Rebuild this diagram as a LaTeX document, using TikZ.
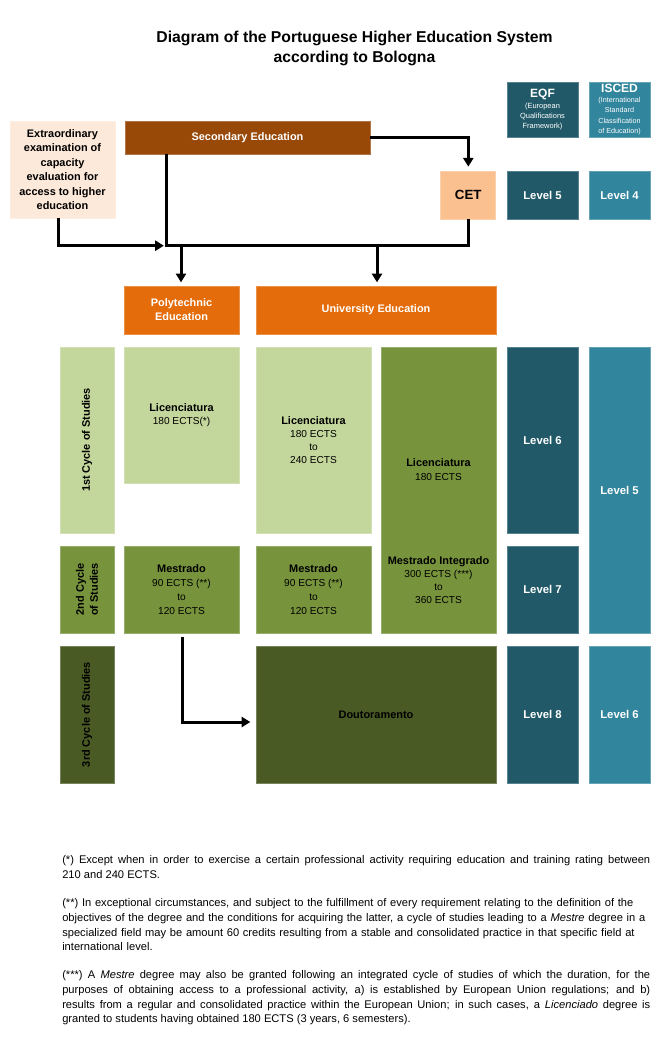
\documentclass[tikz,border=0pt]{standalone}
\usepackage{fontspec}
\setmainfont{Liberation Sans}
\usetikzlibrary{arrows.meta,calc}
\definecolor{peach}{HTML}{FDE9D9}
\definecolor{secbrown}{HTML}{984807}
\definecolor{cetc}{HTML}{FAC090}
\definecolor{orng}{HTML}{E46C0A}
\definecolor{lgreen}{HTML}{C3D69B}
\definecolor{mgreen}{HTML}{77933C}
\definecolor{dgreen}{HTML}{4A5A24}
\definecolor{dteal}{HTML}{215968}
\definecolor{lteal}{HTML}{31859C}
\tikzset{
  bx/.style={fill=#1, draw=#1!75!white, line width=0.5pt, inner sep=1pt, align=center, text=black,
    font=\fontsize{7.6}{9.75}\selectfont},
  wt/.style={text=white},
  bld/.style={font=\bfseries\fontsize{8.2}{10.5}\selectfont},
  lvl/.style={font=\bfseries\fontsize{8.5}{10}\selectfont, text=white},
  conn/.style={line width=2.25pt, line join=miter, draw=black},
  tip/.style={-{Triangle[length=6.5pt,width=7.5pt]}},
  lbl/.style={align=center, inner sep=0pt},
  fnote/.style={anchor=north west, inner sep=0pt, text width=441pt, font=\fontsize{8.35}{11}\selectfont},
}
\begin{document}
\begin{tikzpicture}[x=0.75pt,y=-0.75pt]
\useasboundingbox (0,0) rectangle (664,1044);
\fill[white] (0,0) rectangle (664,1044);

% title
\node[lbl, font=\bfseries\fontsize{11.8}{15}\selectfont] (title) at (354.5,48.5)
  {Diagram of the Portuguese Higher Education System\\according to Bologna};

% header row
\node[bx=dteal, minimum width=53.25pt, minimum height=41.25pt, text=white, font=\fontsize{5.6}{7.6}\selectfont] (eqf) at (542.5,109.5)
  {{\bfseries\fontsize{9}{10}\selectfont EQF}\\[0.5pt](European\\Qualifications\\Framework)};
\node[bx=lteal, minimum width=45.75pt, minimum height=41.25pt, text=white, font=\fontsize{5.4}{7.9}\selectfont] (isced) at (619.5,109.5)
  {{\bfseries\fontsize{9}{10}\selectfont ISCED}\\[-0.5pt](International\\Standard\\Classification\\of Education)};

\node[bx=peach, minimum width=78.75pt, minimum height=72.75pt, font=\bfseries\fontsize{8.2}{10.9}\selectfont] (extra) at (62.5,169.5)
  {Extraordinary\\examination of\\capacity\\evaluation for\\access to higher\\education};
\node[bx=secbrown, minimum width=183.75pt, minimum height=24.75pt, bld, wt] (sec) at (247.5,137.5) {Secondary Education};
\node[bx=cetc, minimum width=41.25pt, minimum height=36pt, font=\bfseries\fontsize{10}{12}\selectfont] (cet) at (468.3,195) {CET};
\node[bx=dteal, minimum width=53.25pt, minimum height=36pt, lvl] (eqf5) at (542.5,195) {Level 5};
\node[bx=lteal, minimum width=45.75pt, minimum height=36pt, lvl] (isc4) at (619.5,195) {Level 4};

% institution types
\node[bx=orng, minimum width=86.25pt, minimum height=36pt, bld, wt] (poly) at (181.5,310) {Polytechnic\\Education};
\node[bx=orng, minimum width=180pt, minimum height=36pt, bld, wt] (univ) at (376,310) {University Education};

% cycle labels
\node[bx=lgreen, minimum width=40.5pt, minimum height=139.5pt] (c1) at (87,440) {};
\node[lbl, rotate=90, bld] (c1t) at (c1.center) {1st Cycle of Studies};
\node[bx=mgreen, minimum width=40.5pt, minimum height=65.25pt] (c2) at (87,589.5) {};
\node[lbl, rotate=90, bld] (c2t) at (c2.center) {2nd Cycle\\of Studies};
\node[bx=dgreen, minimum width=40.5pt, minimum height=102.75pt] (c3) at (87,714.5) {};
\node[lbl, rotate=90, bld] (c3t) at (c3.center) {3rd Cycle of Studies};

% first cycle
\node[bx=lgreen, minimum width=86.25pt, minimum height=102pt] (licp) at (181.5,415)
  {{\bfseries\fontsize{8.2}{10.5}\selectfont Licenciatura}\\180 ECTS(*)};
\node[bx=lgreen, minimum width=86.25pt, minimum height=139.5pt] (licu) at (313.5,440)
  {{\bfseries\fontsize{8.2}{10.5}\selectfont Licenciatura}\\180 ECTS\\to\\240 ECTS};
\node[bx=mgreen, minimum width=86.25pt, minimum height=214.5pt] (integ) at (438.5,490) {};
\node[lbl, font=\fontsize{7.6}{10.5}\selectfont] (integL) at (438.5,470)
  {{\bfseries\fontsize{8.2}{10.5}\selectfont Licenciatura}\\180 ECTS};
\node[lbl, font=\fontsize{7.6}{9.75}\selectfont] (integM) at (438.5,580)
  {{\bfseries\fontsize{8.2}{10.5}\selectfont Mestrado Integrado}\\300 ECTS (***)\\to\\360 ECTS};
\node[bx=dteal, minimum width=53.25pt, minimum height=139.5pt, lvl] (lvl6) at (542.5,440) {Level 6};
\node[bx=lteal, minimum width=45.75pt, minimum height=214.5pt, lvl] (isc5) at (619.5,490) {Level 5};

% second cycle
\node[bx=mgreen, minimum width=86.25pt, minimum height=65.25pt, font=\fontsize{7.6}{10.5}\selectfont] (mesp) at (181.5,589.5)
  {{\bfseries\fontsize{8.2}{10.5}\selectfont Mestrado}\\90 ECTS (**)\\to\\120 ECTS};
\node[bx=mgreen, minimum width=86.25pt, minimum height=65.25pt, font=\fontsize{7.6}{10.5}\selectfont] (mesu) at (313.5,589.5)
  {{\bfseries\fontsize{8.2}{10.5}\selectfont Mestrado}\\90 ECTS (**)\\to\\120 ECTS};
\node[bx=dteal, minimum width=53.25pt, minimum height=65.25pt, lvl] (lvl7) at (542.5,589.5) {Level 7};

% third cycle
\node[bx=dgreen, minimum width=180pt, minimum height=102.75pt, bld] (dout) at (376,714.5) {Doutoramento};
\node[bx=dteal, minimum width=53.25pt, minimum height=102.75pt, lvl] (lvl8) at (542.5,714.5) {Level 8};
\node[bx=lteal, minimum width=45.75pt, minimum height=102.75pt, lvl] (isc6) at (619.5,714.5) {Level 6};

% connectors
\coordinate (j1) at (166,245.7);
\coordinate (e1) at (58,245.7);
\coordinate (d1) at (181,245.7);
\coordinate (d2) at (377,245.7);
\coordinate (m1) at (182,722);
\draw[conn, tip, shorten >=3pt] (sec.east) -- (sec.east -| cet.north) -- (cet.north);
\draw[conn] (j1 |- sec.south) -- (j1) -- (j1 -| cet.south) -- (cet.south);
\draw[conn, tip] (e1 |- extra.south) -- (e1) -- ([xshift=-1.6pt]j1);
\draw[conn, tip, shorten >=2.5pt] (d1) -- (d1 |- poly.north);
\draw[conn, tip, shorten >=2.5pt] (d2) -- (d2 |- univ.north);
\draw[conn, tip, shorten <=3pt, shorten >=4pt] (m1 |- mesp.south) -- (m1) -- (m1 -| dout.west);

% footnotes
\node[fnote, align=justify] (fn1) at (62,855.5)
  {(*) Except when in order to exercise a certain professional activity requiring education and training rating between\linebreak 210 and 240 ECTS.};
\node[fnote, align=left] (fn2) at (62,898.5)
  {(**) In exceptional circumstances, and subject to the fulfillment of every requirement relating to the definition of the\\
  objectives of the degree and the conditions for acquiring the latter, a cycle of studies leading to a \textit{Mestre} degree in a\\
  specialized field may be amount 60 credits resulting from a stable and consolidated practice in that specific field at\\
  international level.};
\node[fnote, align=justify] (fn3) at (62,970.5)
  {(***) A \textit{Mestre} degree may also be granted following an integrated cycle of studies of which the duration, for the\linebreak
  purposes of obtaining access to a professional activity, a) is established by European Union regulations; and b)\linebreak
  results from a regular and consolidated practice within the European Union; in such cases, a \textit{Licenciado} degree is\linebreak
  granted to students having obtained 180 ECTS (3 years, 6 semesters).};
\end{tikzpicture}
\end{document}
